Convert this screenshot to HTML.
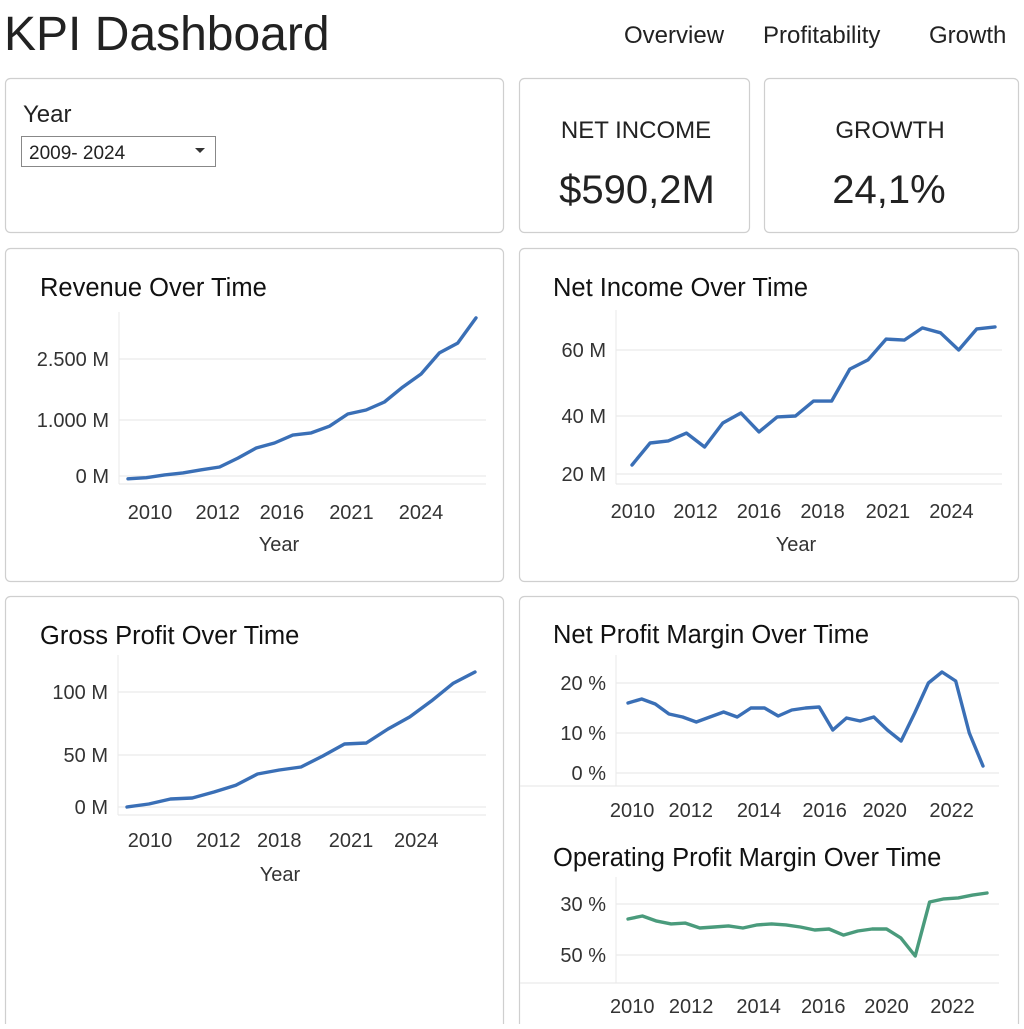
<!DOCTYPE html>
<html><head><meta charset="utf-8"><style>
body{margin:0;background:#fff;width:1024px;height:1024px;overflow:hidden;font-family:"Liberation Sans",sans-serif}
svg text{font-family:"Liberation Sans","DejaVu Sans",sans-serif}
</style></head><body>
<svg id="s" width="1024" height="1024" viewBox="0 0 1024 1024" xmlns="http://www.w3.org/2000/svg">
<text x="4" y="50" font-size="48" fill="#222">KPI Dashboard</text>
<text x="624" y="43" font-size="24" fill="#222">Overview</text>
<text x="763" y="43" font-size="24" fill="#222">Profitability</text>
<text x="929" y="43" font-size="24" fill="#222">Growth</text>
<g fill="#fff" stroke="#cfcfcf" stroke-width="1.2">
<rect x="5.5" y="78.5" width="498" height="154" rx="5"/>
<rect x="519.5" y="78.5" width="230" height="154" rx="5"/>
<rect x="764.5" y="78.5" width="254" height="154" rx="5"/>
<rect x="5.5" y="248.5" width="498" height="333" rx="5"/>
<rect x="519.5" y="248.5" width="499" height="333" rx="5"/>
<rect x="5.5" y="596.5" width="498" height="440" rx="5"/>
<rect x="519.5" y="596.5" width="499" height="440" rx="5"/>
</g>
<text x="23" y="122" font-size="24" fill="#222">Year</text>
<g>
<rect x="21.5" y="136.5" width="194" height="30" fill="#fff" stroke="#888"/>
<text x="29" y="159" font-size="19" fill="#222">2009- 2024</text>
<path d="M195 148 l10 0 l-5 5z" fill="#333"/>
</g>
<text x="636" y="138" font-size="24" fill="#222" text-anchor="middle">NET INCOME</text>
<text x="637" y="203" font-size="40" fill="#222" text-anchor="middle">$590,2M</text>
<text x="890" y="138" font-size="24" fill="#222" text-anchor="middle">GROWTH</text>
<text x="889" y="203" font-size="40" fill="#222" text-anchor="middle">24,1%</text>
<g id="charts"></g>
</svg>
<script>
// Revenue (M)
const revValues=[-50,-30,20,55,110,160,320,500,590,730,770,890,1148,1246,1443,1810,2130,2650,2890,3510];
const revTicks=[0,1000,2500];
const revTickLabels=["0 M","1.000 M","2.500 M"];
const revXLabels=["2010","2012","2016","2021","2024"];
const revXAt=[1.2,4.9,8.4,12.2,16];
// Net income (M)
const niValues=[23.1,30.7,31.4,34.1,29.3,37.6,40.9,34.5,39.7,40,44.5,44.5,54.2,57,63.3,63,66.7,65.2,60,66.4,67];
const niTicks=[20,40,60];
const niTickLabels=["20 M","40 M","60 M"];
const niXLabels=["2010","2012","2016","2018","2021","2024"];
const niXAt=[0.05,3.5,7,10.5,14.1,17.6];
// Gross profit (M)
const gpValues=[0,2.9,7.7,8.7,14.4,21,31.7,35.6,38.5,49,58.7,59.5,70.6,80.2,92.9,107,115.9];
const gpTicks=[0,50,100];
const gpTickLabels=["0 M","50 M","100 M"];
const gpXLabels=["2010","2012","2018","2021","2024"];
const gpXAt=[1.06,4.2,7,10.3,13.3];
// Net profit margin (%)
const npmValues=[16,16.8,15.8,13.8,13.2,12.2,13.2,14.2,13.2,15,15,13.4,14.6,15,15.2,10.6,13,12.4,13.2,10.6,8,14,20,22.2,20.4,10,1.75];
const npmTicks=[0,10,20];
const npmTickLabels=["0 %","10 %","20 %"];
const npmXLabels=["2010","2012","2014","2016","2020","2022"];
const npmXAt=[0.3,4.6,9.6,14.4,18.8,23.7];
// Operating profit margin (%)
const opmValues=[35.9,34.7,36.7,37.8,37.5,39.4,39,38.6,39.4,38.2,37.8,38.2,39,40.2,39.8,42.2,40.6,39.8,39.8,43.3,50.4,29.2,28,27.6,26.5,25.7];
const opmTicks=[30,50];
const opmTickLabels=["30 %","50 %"];
const opmXLabels=["2010","2012","2014","2016","2020","2022"];
const opmXAt=[0.3,4.4,9.1,13.6,18,22.6];

const NS="http://www.w3.org/2000/svg";
const root=document.getElementById('charts');
function mk(tag,attrs,parent){const e=document.createElementNS(NS,tag);for(const k in attrs)e.setAttribute(k,attrs[k]);(parent||root).appendChild(e);return e;}
function poly(dom,rng){return v=>{let i=0;if(v>dom[dom.length-1])i=dom.length-2;else{while(i<dom.length-2&&v>dom[i+1])i++;}
  const t=(v-dom[i])/(dom[i+1]-dom[i]);return rng[i]+t*(rng[i+1]-rng[i]);};}
function lin(d0,d1,r0,r1){return v=>r0+(v-d0)/(d1-d0)*(r1-r0);}

function chart(c){
  const g=mk('g',{});
  
  
  const t=mk('text',{x:c.titleX,y:c.titleY,'font-size':25.5,fill:'#111'},g);t.textContent=c.title;
  
  
  const y=poly(c.ticks,c.tickY);
  const x=lin(0,c.values.length-1,c.x0,c.x1);
  c.ticks.forEach((tv,i)=>{
    const gl=mk('line',{x1:c.axisX,x2:c.right,y1:y(tv),y2:y(tv),stroke:'#e6e6e6','stroke-width':1},g);
    
    
    const tl=mk('text',{x:c.axisX-10,y:y(tv)+7,'font-size':20,fill:'#333','text-anchor':'end'},g);
    tl.textContent=c.tickLabels[i];
    
    
  });
  const ax=mk('line',{x1:c.axisX,x2:c.axisX,y1:c.top,y2:c.base,stroke:'#eaeaea'},g);
  
  
  const bl=mk('line',{x1:c.baseL,x2:c.right,y1:c.base,y2:c.base,stroke:'#e6e6e6'},g);
  
  
  c.xLabels.forEach((lb,i)=>{
    const xl=mk('text',{x:x(c.xAt[i]),y:c.xLabelY,'font-size':20,fill:'#333','text-anchor':'middle'},g);
    xl.textContent=lb;
    
    
  });
  if(c.yearY){const yt=mk('text',{x:c.yearX,y:c.yearY,'font-size':20,fill:'#333','text-anchor':'middle'},g);yt.textContent='Year';
    
    }
  const d=c.values.map((v,i)=>(i?'L':'M')+x(i).toFixed(1)+' '+y(v).toFixed(1)).join(' ');
  const p=mk('path',{d:d,fill:'none',stroke:c.color,'stroke-width':3.4,'stroke-linejoin':'round','stroke-linecap':'round'},g);
  
  
}
const blue='#3a6fb6',green='#4a9b7c';
chart({name:'revenue-chart',title:'Revenue Over Time',titleX:40,titleY:296,values:revValues,ticks:revTicks,tickY:[476,420,359],tickLabels:revTickLabels,
  x0:128,x1:476,axisX:119,top:312,base:484,baseL:119,right:486,xLabels:revXLabels,xAt:revXAt,xLabelY:519,yearX:279,yearY:551,color:blue});
chart({name:'net-income-chart',title:'Net Income Over Time',titleX:553,titleY:296,values:niValues,ticks:niTicks,tickY:[474,416,350],tickLabels:niTickLabels,
  x0:632,x1:995,axisX:616,top:310,base:484,baseL:616,right:1002,xLabels:niXLabels,xAt:niXAt,xLabelY:518,yearX:796,yearY:551,color:blue});
chart({name:'gross-profit-chart',title:'Gross Profit Over Time',titleX:40,titleY:644,values:gpValues,ticks:gpTicks,tickY:[807,755,692],tickLabels:gpTickLabels,
  x0:127,x1:475,axisX:118,top:655,base:815,baseL:118,right:486,xLabels:gpXLabels,xAt:gpXAt,xLabelY:847,yearX:280,yearY:881,color:blue});
chart({name:'net-profit-margin-chart',title:'Net Profit Margin Over Time',titleX:553,titleY:643,values:npmValues,ticks:npmTicks,tickY:[773,733,683],tickLabels:npmTickLabels,
  x0:628,x1:983,axisX:616,top:655,base:786,baseL:520,right:999,xLabels:npmXLabels,xAt:npmXAt,xLabelY:817,color:blue});
chart({name:'operating-profit-margin-chart',title:'Operating Profit Margin Over Time',titleX:553,titleY:866,values:opmValues,ticks:opmTicks,tickY:[904,955],tickLabels:opmTickLabels,
  x0:628,x1:987,axisX:616,top:877,base:983,baseL:520,right:999,xLabels:opmXLabels,xAt:opmXAt,xLabelY:1013,color:green});
</script>
</body></html>
